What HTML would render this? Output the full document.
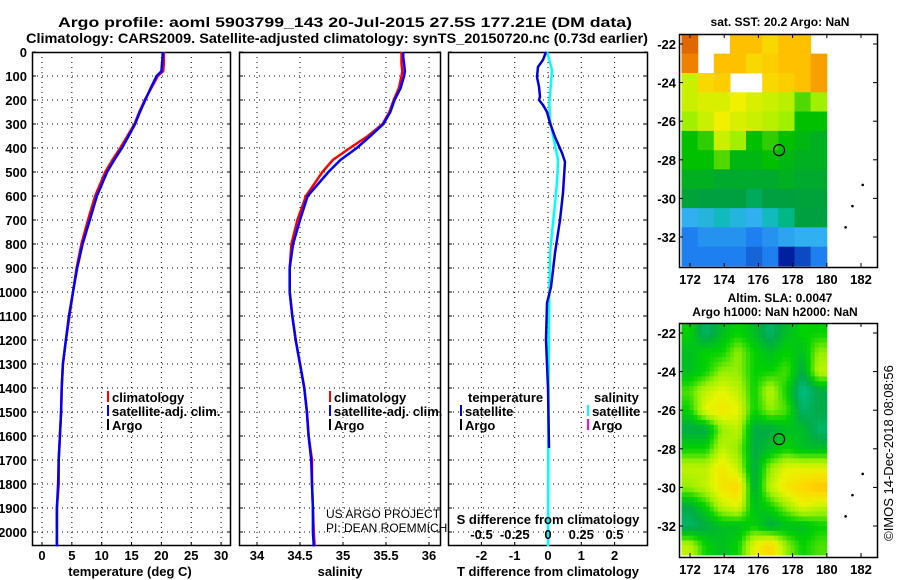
<!DOCTYPE html>
<html><head><meta charset="utf-8"><style>
html,body{margin:0;padding:0;background:#fff;}
svg{display:block;font-family:"Liberation Sans",sans-serif;}
.b{font-weight:bold;font-size:13px;}
</style></head><body>
<svg id="fig" width="900" height="580" xmlns="http://www.w3.org/2000/svg">
<text x="58" y="27" class="b" style="font-size:14px" textLength="574" lengthAdjust="spacingAndGlyphs">Argo profile: aoml 5903799_143 20-Jul-2015 27.5S 177.21E (DM data)</text>
<text x="26" y="43" class="b" style="font-size:14px" textLength="622" lengthAdjust="spacingAndGlyphs">Climatology: CARS2009. Satellite-adjusted climatology: synTS_20150720.nc (0.73d earlier)</text>
<g id="g"></g>
</svg>
<script>
// ---- profile data ----
const depths = [0,20,50,80,100,150,200,250,300,350,400,450,500,600,700,800,900,1000,1100,1200,1300,1400,1500,1600,1700,1800,1900,2000,2060];
const tempSat = [20.2,20.2,20.1,20.0,19.2,18.2,17.3,16.4,15.6,14.5,13.4,12.1,10.9,9.2,8.0,6.8,5.9,5.2,4.5,4.0,3.5,3.3,3.2,3.0,2.8,2.7,2.5,2.5,2.5];
const tempClim = [20.4,20.4,20.4,20.3,19.4,18.3,17.2,16.3,15.5,14.3,13.1,11.8,10.6,8.9,7.7,6.6,5.8,5.2,4.6,4.0,3.5,3.3,3.2,3.0,2.8,2.8,2.5,2.5,2.5];
const salSat = [35.70,35.70,35.71,35.72,35.71,35.67,35.60,35.55,35.47,35.32,35.16,34.97,34.83,34.59,34.50,34.42,34.38,34.38,34.41,34.45,34.50,34.55,34.58,34.60,34.63,34.64,34.65,34.65,34.66];
const salClim = [35.68,35.68,35.68,35.69,35.68,35.65,35.59,35.54,35.46,35.29,35.08,34.88,34.76,34.57,34.47,34.40,34.38,34.38,34.41,34.45,34.50,34.55,34.58,34.60,34.64,34.64,34.65,34.66,34.67];
const tdDepths = [0,33,62,104,145,187,200,221,250,296,354,421,458,521,587,700,838,979,1046,1200,1400,1650];
const tDiffSat = [-0.06,-0.15,-0.3,-0.33,-0.27,-0.24,-0.27,-0.15,-0.03,0.06,0.21,0.42,0.51,0.48,0.45,0.36,0.21,0.09,-0.03,-0.06,0.0,0.03];
const sdDepths = [0,75,145,213,283,354,450,521,587,700,838,1046,1500,2060];
const sDiffSat = [-0.007,0.03,0.02,0.01,0.015,0.04,0.075,0.07,0.06,0.04,0.015,0.008,0.003,0.0];
const depthTicks = [0,100,200,300,400,500,600,700,800,900,1000,1100,1200,1300,1400,1500,1600,1700,1800,1900,2000];
const tempTicks = [0,5,10,15,20,25,30];
const salTicks = [34,34.5,35,35.5,36];
const salTickLabels = ["34","34.5","35","35.5","36"];
const tdTicks = [-2,-1,0,1,2];
const sdTicks = [-0.5,-0.25,0,0.25,0.5];
const sdTickLabels = ["-0.5","-0.25","0","0.25","0.5"];
// ---- map data (rows lat -22..-33, cols lon 171.5..180) ----
const sstGrid = [
 [0.9,null,null,0.75,0.75,0.7,0.75,0.75,null],
 [0.85,null,0.75,0.75,0.7,0.72,0.75,0.75,0.8],
 [0.6,0.7,0.72,null,null,0.7,0.72,0.75,0.8],
 [0.6,0.62,0.62,0.65,0.62,0.6,0.58,0.5,0.55],
 [0.55,0.6,0.65,0.62,0.6,0.58,0.55,0.45,0.45],
 [0.45,0.48,0.6,0.55,0.45,0.48,0.45,0.42,0.4],
 [0.45,0.45,0.5,0.42,0.42,0.45,0.42,0.4,0.4],
 [0.4,0.4,0.38,0.38,0.38,0.38,0.4,0.38,0.38],
 [0.36,0.35,0.35,0.35,0.33,0.35,0.35,0.36,0.36],
 [0.2,0.22,0.25,0.22,0.2,0.25,0.3,0.35,0.35],
 [0.12,0.15,0.15,0.15,0.12,0.15,0.18,0.2,0.2],
 [0.12,0.12,0.12,0.12,0.1,0.12,0.05,0.08,0.12]];
const slaGrid = [
 [0.45,0.3,0.4,0.45,0.4,0.3,0.4,0.45,0.45],
 [0.4,0.45,0.45,0.55,0.45,0.4,0.45,0.4,0.55],
 [0.4,0.45,0.55,0.55,0.45,0.45,0.5,0.35,0.6],
 [0.5,0.6,0.65,0.6,0.45,0.6,0.45,0.25,0.35],
 [0.45,0.65,0.7,0.65,0.45,0.55,0.5,0.3,0.35],
 [0.35,0.35,0.55,0.6,0.35,0.35,0.4,0.4,0.3],
 [0.45,0.45,0.6,0.55,0.35,0.4,0.45,0.4,0.4],
 [0.6,0.6,0.7,0.6,0.35,0.55,0.65,0.65,0.65],
 [0.55,0.6,0.7,0.75,0.35,0.6,0.7,0.75,0.8],
 [0.35,0.45,0.6,0.65,0.4,0.45,0.55,0.65,0.6],
 [0.3,0.35,0.4,0.4,0.45,0.35,0.4,0.4,0.45],
 [0.6,0.45,0.4,0.45,0.65,0.75,0.55,0.45,0.5]];
const lonTicks = [172,174,176,178,180,182];
const latTicks = [-22,-24,-26,-28,-30,-32];

const NS="http://www.w3.org/2000/svg";
const G=document.getElementById('g');
function mk(tag,attrs,parent){const e=document.createElementNS(NS,tag);for(const k in attrs)e.setAttribute(k,attrs[k]);(parent||G).appendChild(e);return e;}
function txt(x,y,s,attrs){const e=mk('text',Object.assign({x:x,y:y},attrs||{}));e.textContent=s;return e;}

const yTop=52, yBot=546;
const yD=d=>yTop+d*0.24;
const panels=[
 {x0:32,x1:231,fx:v=>42+v*5.97,ticks:tempTicks,labels:tempTicks.map(String),name:'temperature-panel'},
 {x0:239,x1:441,fx:v=>257+(v-34)*86,ticks:salTicks,labels:salTickLabels,name:'salinity-panel'},
 {x0:448,x1:648,fx:v=>548+v*33.3,ticks:tdTicks,labels:tdTicks.map(String),name:'difference-panel'}];
const fS=v=>548+v*133;

panels.forEach((p,pi)=>{
 const g=mk('g',{});
 
 
 depthTicks.forEach(d=>{
  if(d>0){const l=mk('line',{x1:p.x0,x2:p.x1,y1:yD(d),y2:yD(d),stroke:'#000','stroke-width':1,'stroke-dasharray':'1,4'},g);
   }
  mk('line',{x1:p.x0,x2:p.x0+4,y1:yD(d),y2:yD(d),stroke:'#000'},g);
  mk('line',{x1:p.x1-4,x2:p.x1,y1:yD(d),y2:yD(d),stroke:'#000'},g);
 });
 p.ticks.forEach((t,i)=>{
  const x=p.fx(t);
  const l=mk('line',{x1:x,x2:x,y1:yTop,y2:yBot,stroke:'#000','stroke-dasharray':'1,4'},g);
  
  mk('line',{x1:x,x2:x,y1:yBot-4,y2:yBot,stroke:'#000'},g);
  const tl=txt(x,560,p.labels[i],{'text-anchor':'middle','class':'b'});
  
 });
 const r=mk('rect',{x:p.x0+0.5,y:yTop+0.5,width:p.x1-p.x0-1,height:yBot-yTop-1,fill:'none',stroke:'#000','stroke-width':1.5},g);
 
});
depthTicks.forEach(d=>{const t=txt(27,yD(d)+5,String(d),{'text-anchor':'end','class':'b'});
 });

function poly(xs,ds,fx,color,w,name){
 const pts=xs.map((v,i)=>fx(v).toFixed(1)+','+yD(ds[i]).toFixed(1)).join(' ');
 const e=mk('polyline',{points:pts,fill:'none',stroke:color,'stroke-width':w});
 
}
poly(tempClim,depths,panels[0].fx,'#f00',2.5,'temp-climatology-line');
poly(tempSat,depths,panels[0].fx,'#0000ff',2.5,'temp-satellite-line');
poly(salClim,depths,panels[1].fx,'#f00',2.5,'sal-climatology-line');
poly(salSat,depths,panels[1].fx,'#0000ff',2.5,'sal-satellite-line');
poly(sDiffSat,sdDepths,fS,'#00ffff',2.5,'sdiff-satellite-line');
poly(tDiffSat,tdDepths,panels[2].fx,'#0000dd',2.5,'tdiff-satellite-line');

[[130,'temperature (deg C)'],[340,'salinity'],[548,'T difference from climatology']].forEach(a=>{
 const t=txt(a[0],576,a[1],{'text-anchor':'middle','class':'b'});
 });
const sdt=txt(548,524,'S difference from climatology',{'text-anchor':'middle','class':'b'});

sdTicks.forEach((s,i)=>{const t=txt(fS(s),539,sdTickLabels[i],{'text-anchor':'middle','class':'b'});
 });

function legend(x,y,color,label){
 mk('rect',{x:x,y:y-11,width:2,height:11,fill:color});
 const t=txt(x+5,y,label,{'class':'b'});
 
}
[[107,'#f00','climatology'],[107,'#00f','satellite-adj. clim.'],[107,'#000','Argo']].forEach((a,i)=>legend(a[0],402+i*14,a[1],a[2]));
[[329,'#f00','climatology'],[329,'#00f','satellite-adj. clim.'],[329,'#000','Argo']].forEach((a,i)=>legend(a[0],402+i*14,a[1],a[2]));
const lt=txt(468,402,'temperature',{'class':'b'});
const ls=txt(594,402,'salinity',{'class':'b'});
legend(460,416,'#0000dd','satellite');legend(460,430,'#000','Argo');
legend(587,416,'#00ffff','satellite');legend(587,430,'#ff00ff','Argo');
const us=txt(326,518,'US ARGO PROJECT',{'font-size':12});
const pi=txt(326,532,'PI: DEAN ROEMMICH',{'font-size':12});

function cmapSST(v){const s=[[0.05,[0,32,160]],[0.12,[30,128,240]],[0.2,[48,176,240]],[0.28,[0,192,160]],[0.35,[0,160,64]],[0.45,[0,192,0]],[0.55,[160,240,0]],[0.65,[240,240,0]],[0.75,[255,192,0]],[0.85,[240,128,0]],[0.95,[208,80,0]]];return interp(s,v);}
function cmapSLA(v){const s=[[0.25,[0,190,140]],[0.35,[0,172,70]],[0.45,[0,210,0]],[0.55,[150,240,0]],[0.65,[230,245,0]],[0.75,[255,215,0]],[0.85,[255,180,0]]];return interp(s,v);}
function interp(s,v){if(v<=s[0][0])return 'rgb('+s[0][1]+')';for(let i=1;i<s.length;i++){if(v<=s[i][0]){const f=(v-s[i-1][0])/(s[i][0]-s[i-1][0]);const c=s[i-1][1].map((a,k)=>Math.round(a+(s[i][1][k]-a)*f));return 'rgb('+c+')';}}return 'rgb('+s[s.length-1][1]+')';}
function drawMap(grid,cmap,y22,frameTop,frameBot,name,sub){
 const fx=lon=>690+(lon-172)*17.1, fy=lat=>y22+(-22-lat)*19.3;
 const g=mk('g',{});
 const nr=grid.length,nc=grid[0].length,lonW=(180-171.5)/nc;
 const val=(r,c)=>{r=Math.max(0,Math.min(nr-1,r));c=Math.max(0,Math.min(nc-1,c));return grid[r][c];};
 grid.forEach((row,r)=>row.forEach((v,c)=>{if(v===null)return;
  for(let i=0;i<sub;i++)for(let j=0;j<sub;j++){
   let vv=v;
   if(sub>1){ // display smoothing between neighbouring cells
    const fr=r+(i+0.5)/sub-0.5, fc=c+(j+0.5)/sub-0.5;
    const r0=Math.floor(fr),c0=Math.floor(fc),dr=fr-r0,dc=fc-c0;
    vv=val(r0,c0)*(1-dr)*(1-dc)+val(r0+1,c0)*dr*(1-dc)+val(r0,c0+1)*(1-dr)*dc+val(r0+1,c0+1)*dr*dc;
   }
   const x0=fx(171.5+(c+j/sub)*lonW),x1=fx(171.5+(c+(j+1)/sub)*lonW),y0=fy(-21.5-r-i/sub),y1=fy(-21.5-r-(i+1)/sub);
   const yy0=Math.max(frameTop,y0),yy1=Math.min(frameBot,y1);if(yy1<=yy0)continue;
   const e=mk('rect',{x:x0.toFixed(1),y:yy0.toFixed(1),width:(x1-x0+0.5).toFixed(1),height:(yy1-yy0+0.5).toFixed(1),fill:cmap(vv)},g);
   
  }}));
 const fr=mk('rect',{x:679.5,y:frameTop+0.5,width:198,height:frameBot-frameTop,fill:'none',stroke:'#000','stroke-width':1.5},g);
 
 lonTicks.forEach(l=>{mk('line',{x1:fx(l),x2:fx(l),y1:frameTop,y2:frameTop+4,stroke:'#000'},g);mk('line',{x1:fx(l),x2:fx(l),y1:frameBot-4,y2:frameBot,stroke:'#000'},g);
  const t=txt(fx(l),frameBot+17,String(l),{'text-anchor':'middle','class':'b'});});
 latTicks.forEach(l=>{mk('line',{x1:679,x2:683,y1:fy(l),y2:fy(l),stroke:'#000'},g);mk('line',{x1:873,x2:878,y1:fy(l),y2:fy(l),stroke:'#000'},g);
  const t=txt(676,fy(l)+5,String(l),{'text-anchor':'end','class':'b'});});
 const c=mk('circle',{cx:fx(177.21),cy:fy(-27.5),r:5.5,fill:'none',stroke:'#000','stroke-width':1.2},g);
 
 [[182.1,-29.3],[181.5,-30.4],[181.1,-31.5]].forEach(p=>mk('circle',{cx:fx(p[0]),cy:fy(p[1]),r:1.3,fill:'#000'},g));
}
drawMap(sstGrid,cmapSST,44,34,267,'sst-map',1);
drawMap(slaGrid,cmapSLA,333,323,557,'sla-map',4);
const m1=txt(780,26,'sat. SST: 20.2 Argo: NaN',{'text-anchor':'middle','class':'b','style':'font-size:12px'});
const m2=txt(780,302,'Altim. SLA: 0.0047',{'text-anchor':'middle','class':'b','style':'font-size:12px'});
const m3=txt(775,316,'Argo h1000: NaN h2000: NaN',{'text-anchor':'middle','class':'b','style':'font-size:12px'});
const ts=txt(0,0,'©IMOS 14-Dec-2018 08:08:56',{'text-anchor':'middle','font-size':13,'transform':'translate(893,453) rotate(-90)'});

</script>
</body></html>
